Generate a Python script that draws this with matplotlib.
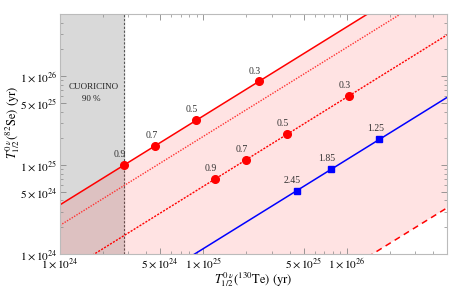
import matplotlib
matplotlib.use("Agg")
import matplotlib.pyplot as plt
from matplotlib.ticker import FixedLocator, NullFormatter

plt.rcParams['font.family'] = ['Liberation Serif', 'DejaVu Serif']
plt.rcParams['mathtext.fontset'] = 'stix'

# axis range (yr)
te_lim = [1e24, 5e26]
se_lim = [1e24, 5e26]
cuoricino = 2.8e24

# straight bands, endpoints at te_lim
te_ends = [1e24, 5e26]
se_upper = [3.57e24, 1.785e27]      # solid red
se_mid = [2.1e24, 1.05e27]          # dotted red
se_low = [5.75e23, 2.9e26]          # dotted red with points
se_blue = [1.15e23, 5.75e25]        # blue
se_bottom = [6.65e21, 3.3e24]       # dashed red

# marked points
upper_te = [2.8e24, 4.64e24, 8.9e24, 2.44e25]
upper_se = [1.0e25, 1.65e25, 3.22e25, 8.7e25]
low_te = [1.2e25, 1.98e25, 3.81e25, 1.04e26]
low_se = [6.9e24, 1.13e25, 2.22e25, 6.03e25]
red_labels = ['0.9', '0.7', '0.5', '0.3']
blue_te = [4.48e25, 7.74e25, 1.69e26]
blue_se = [5.13e24, 9.0e24, 1.97e25]
blue_labels = ['2.45', '1.85', '1.25']

x_major = [1e24, 5e24, 1e25, 5e25, 1e26]
x_major_labels = [r'$1\times10^{24}$', r'$5\times10^{24}$', r'$1\times10^{25}$',
                  r'$5\times10^{25}$', r'$1\times10^{26}$']
y_major = [1e24, 5e24, 1e25, 5e25, 1e26]
y_major_labels = [r'$1\times10^{24}$', r'$5\times10^{24}$', r'$1\times10^{25}$',
                  r'$5\times10^{25}$', r'$1\times10^{26}$']

fig = plt.figure(figsize=(4.68, 2.9), dpi=100)
ax = fig.add_axes([0.128, 0.124, 0.827, 0.828])
ax.set_xscale('log')
ax.set_yscale('log')
ax.set_xlim(te_lim)
ax.set_ylim(se_lim)

# excluded region
ax.axvspan(te_lim[0], cuoricino, color='#d9d9d9', zorder=0)
ax.axvline(cuoricino, color='#555555', lw=0.8, ls=(0, (2, 1.5)), zorder=1)
ax.fill_between(te_ends, se_bottom, se_upper, color='red', alpha=0.11,
                lw=0, zorder=1)

ax.plot(te_ends, se_upper, color='red', lw=1.1, zorder=2)
ax.plot(te_ends, se_mid, color='#ff3333', lw=1.0, ls=(0, (1, 1)), zorder=2)
ax.plot(te_ends, se_low, color='red', lw=1.0, ls=(0, (1.5, 1)), zorder=2)
ax.plot(te_ends, se_blue, color='blue', lw=1.1, zorder=2)
ax.plot(te_ends, se_bottom, color='red', lw=1.1, ls=(0, (4, 3)), zorder=2)

ax.plot(upper_te, upper_se, 'o', color='red', ms=5.5, zorder=3)
ax.plot(low_te, low_se, 'o', color='red', ms=5.5, zorder=3)
ax.plot(blue_te, blue_se, 's', color='blue', ms=5, zorder=3)

for xs, ys, labs in [(upper_te, upper_se, red_labels),
                     (low_te, low_se, red_labels),
                     (blue_te, blue_se, blue_labels)]:
    for x, y, t in zip(xs, ys, labs):
        ax.annotate(t, (x, y), xytext=(-3, 7.5), textcoords='offset points',
                    ha='center', va='center', fontsize=7, color='#333333')

ax.text(1.72e24, 7.5e25, 'CUORICINO', fontsize=6.5, ha='center', va='center',
        color='#222222')
ax.text(1.65e24, 5.5e25, '90 %', fontsize=6.5, ha='center', va='center',
        color='#222222')

ax.xaxis.set_major_locator(FixedLocator(x_major))
ax.set_xticklabels(x_major_labels)
ax.yaxis.set_major_locator(FixedLocator(y_major))
ax.set_yticklabels(y_major_labels)
minors = [m * 10.0 ** e for e in range(24, 27) for m in range(2, 10)
          if m != 5]
ax.xaxis.set_minor_locator(FixedLocator(minors))
ax.yaxis.set_minor_locator(FixedLocator(minors))
ax.xaxis.set_minor_formatter(NullFormatter())
ax.yaxis.set_minor_formatter(NullFormatter())

ax.tick_params(which='both', direction='in', top=True, right=True,
               color='#888888', labelsize=8.2, pad=2)
ax.tick_params(which='major', length=4, width=0.6)
ax.tick_params(which='minor', length=2.2, width=0.5)
for s in ax.spines.values():
    s.set_color('#bbbbbb')
    s.set_linewidth(0.8)

ax.set_xlabel(r'$T^{0\ \nu}_{1/2}(^{130}\mathrm{Te})\ (\mathrm{yr})$',
              fontsize=9, va='center')
ax.xaxis.set_label_coords(0.5, -0.108)
ax.set_ylabel(r'$T^{0\ \nu}_{1/2}(^{82}\mathrm{Se})\ (\mathrm{yr})$',
              fontsize=9, va='center')
ax.yaxis.set_label_coords(-0.122, 0.55)

fig.savefig('out.png', dpi=100)
